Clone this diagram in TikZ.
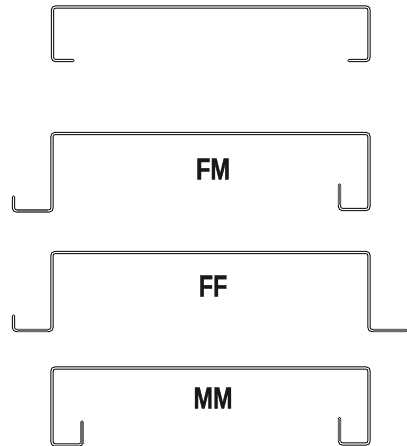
\documentclass[tikz,border=0pt]{standalone}
\usepackage{fontspec}
\newfontfamily\tagfont[FakeBold=1.5]{Liberation Sans Bold}
\tikzset{
  profile/.style={draw=black,line width=1pt,double=white,double distance=1.1pt,rounded corners=3pt,line cap=round},
  flange/.style={draw=black!58,line width=3.2pt},
  tag/.style={font=\tagfont\fontsize{30}{30}\selectfont,text=black!90,xscale=0.78,inner sep=0pt}
}
\begin{document}
\begin{tikzpicture}[x=1pt,y=-1pt]
\useasboundingbox (0,0) rectangle (406,446);
% plain profile
\draw[profile] (73,60.5)--(52.5,60.5)--(52.5,7)--(369,7)--(369,60.5)--(349,60.5);
% FM
\draw[profile] (13.5,197)--(13.5,211)--(52,211)--(52,133.5)--(369,133.5)--(369,209.5)--(339.5,209.5)--(339.5,185);
\draw[flange] (17,211.5)--(48,211.5);
\draw[flange] (339.5,205)--(339.5,185);
\node[tag,name=fm] at (213,169){FM};
% FF
\draw[profile] (13.5,316)--(13.5,330.5)--(52,330.5)--(52,252.5)--(369,252.5)--(369,330.5)--(406,330.5);
\draw[flange] (17,330.5)--(48,330.5);
\draw[flange] (373,330.5)--(406,330.5);
\node[tag,name=ff] at (213,286){FF};
% MM
\draw[profile] (82,422)--(82,445)--(52,445)--(52,368)--(369,368)--(369,444)--(339.5,444)--(339.5,418.5);
\draw[flange] (82,421.5)--(82,444);
\draw[flange] (339.5,418.5)--(339.5,441);
\draw[black!50,line width=0.8pt] (55,445.5)--(79,445.5);
\node[tag,name=mm] at (213,398){MM};
\end{tikzpicture}
\end{document}
